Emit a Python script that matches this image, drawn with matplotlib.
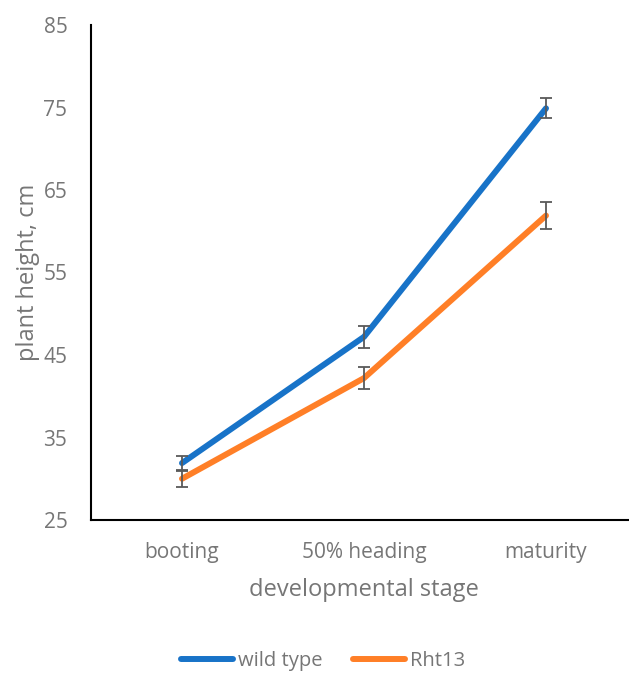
import matplotlib.pyplot as plt
from matplotlib.lines import Line2D

stages = ['booting', '50% heading', 'maturity']
wild_type = [31.9, 47.2, 74.9]
wild_type_err = [0.85, 1.3, 1.2]
rht13 = [30.0, 42.2, 61.9]
rht13_err = [0.95, 1.3, 1.6]
y_ticks = [25, 35, 45, 55, 65, 75, 85]

blue = '#1873C8'
orange = '#FF7F27'
grey = '#767676'

plt.rcParams['font.family'] = ['Open Sans', 'DejaVu Sans']

fig = plt.figure(figsize=(6.29, 6.73), dpi=100)
ax = fig.add_axes([91 / 629, 153 / 673, 546 / 629, 495 / 673])

x = list(range(len(stages)))
for vals, errs, col in [(wild_type, wild_type_err, blue), (rht13, rht13_err, orange)]:
    ax.plot(x, vals, color=col, lw=4.3, solid_capstyle='round', zorder=3)
    ax.errorbar(x, vals, yerr=errs, fmt='none', ecolor='#595959',
                elinewidth=1.3, capsize=4.5, capthick=1.3, zorder=4)

ax.set_xlim(-0.5, 2.5)
ax.set_ylim(25, 85)
ax.set_yticks(y_ticks)
ax.set_xticks(x)
ax.set_xticklabels(stages)
ax.tick_params(length=0, labelsize=15, labelcolor=grey)
ax.tick_params(axis='y', pad=17)
ax.tick_params(axis='x', pad=16)
for s in ['top', 'right']:
    ax.spines[s].set_visible(False)
for s in ['left', 'bottom']:
    ax.spines[s].set_linewidth(1.5)
    ax.spines[s].set_color('black')

ax.set_xlabel('developmental stage', fontsize=17, color=grey, labelpad=11)
ax.set_ylabel('plant height, cm', fontsize=17, color=grey)
ax.yaxis.set_label_coords(-0.094, 0.5)

handles = [Line2D([], [], color=blue, lw=4.3, solid_capstyle='round'),
           Line2D([], [], color=orange, lw=4.3, solid_capstyle='round')]
fig.legend(handles, ['wild type', 'Rht13'], loc='center', bbox_to_anchor=(0.514, 1 - 661 / 673),
           ncol=2, frameon=False, fontsize=14.5, labelcolor=grey, handlelength=2.6,
           handletextpad=0.25, columnspacing=1.5)

fig.savefig('out.png', dpi=100)
